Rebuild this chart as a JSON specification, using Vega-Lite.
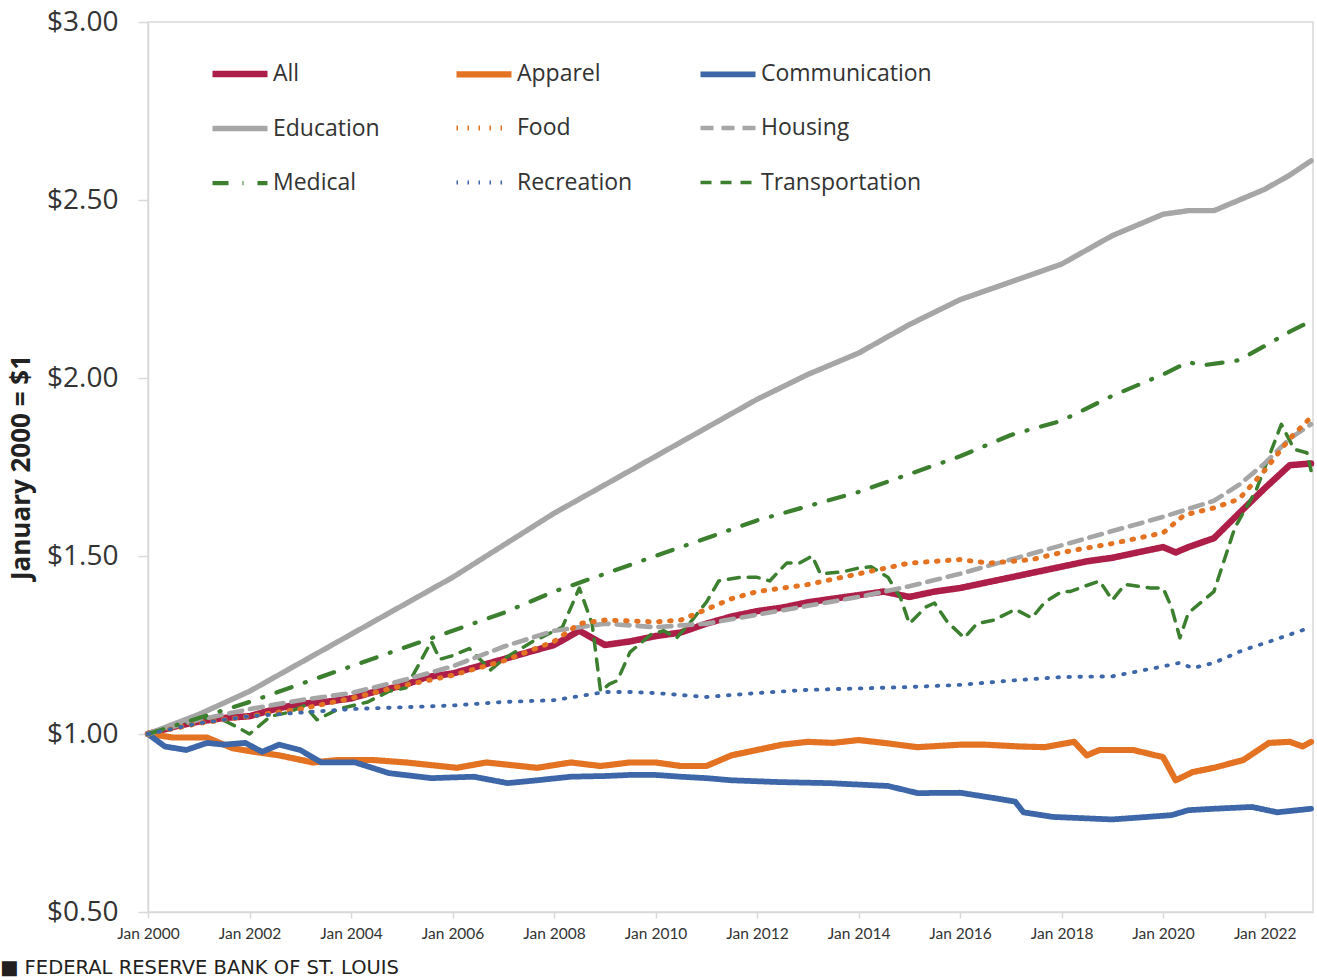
{
  "$schema": "https://vega.github.io/schema/vega-lite/v6.json",
  "width": 1165,
  "height": 890,
  "autosize": {"type": "none"},
  "padding": {"left": 148, "top": 22, "right": 4, "bottom": 68},
  "background": "white",
  "config": {"view": {"stroke": "#d9d9d9", "strokeWidth": 1.5}, "font": "Open Sans"},
  "title": {"text": "■ FEDERAL RESERVE BANK OF ST. LOUIS", "orient": "bottom", "anchor": "start", "frame": "group", "dx": -148, "offset": 17, "fontSize": 19.5, "fontWeight": "normal", "color": "#231f20", "font": "DejaVu Sans"},
  "data": {"values": [
    {"series": "All", "date": "2000-01", "value": 1.00},
    {"series": "All", "date": "2000-07", "value": 1.02},
    {"series": "All", "date": "2001-01", "value": 1.035},
    {"series": "All", "date": "2001-07", "value": 1.045},
    {"series": "All", "date": "2002-01", "value": 1.05},
    {"series": "All", "date": "2002-07", "value": 1.07},
    {"series": "All", "date": "2003-01", "value": 1.085},
    {"series": "All", "date": "2003-07", "value": 1.09},
    {"series": "All", "date": "2004-01", "value": 1.10},
    {"series": "All", "date": "2004-07", "value": 1.12},
    {"series": "All", "date": "2005-01", "value": 1.135},
    {"series": "All", "date": "2005-07", "value": 1.16},
    {"series": "All", "date": "2006-01", "value": 1.17},
    {"series": "All", "date": "2006-07", "value": 1.19},
    {"series": "All", "date": "2007-01", "value": 1.21},
    {"series": "All", "date": "2007-07", "value": 1.23},
    {"series": "All", "date": "2008-01", "value": 1.25},
    {"series": "All", "date": "2008-07", "value": 1.29},
    {"series": "All", "date": "2008-10", "value": 1.27},
    {"series": "All", "date": "2009-01", "value": 1.25},
    {"series": "All", "date": "2009-07", "value": 1.26},
    {"series": "All", "date": "2010-01", "value": 1.275},
    {"series": "All", "date": "2010-07", "value": 1.285},
    {"series": "All", "date": "2011-01", "value": 1.31},
    {"series": "All", "date": "2011-07", "value": 1.33},
    {"series": "All", "date": "2012-01", "value": 1.345},
    {"series": "All", "date": "2012-07", "value": 1.355},
    {"series": "All", "date": "2013-01", "value": 1.37},
    {"series": "All", "date": "2013-07", "value": 1.38},
    {"series": "All", "date": "2014-01", "value": 1.39},
    {"series": "All", "date": "2014-07", "value": 1.40},
    {"series": "All", "date": "2015-01", "value": 1.385},
    {"series": "All", "date": "2015-07", "value": 1.40},
    {"series": "All", "date": "2016-01", "value": 1.41},
    {"series": "All", "date": "2016-07", "value": 1.425},
    {"series": "All", "date": "2017-01", "value": 1.44},
    {"series": "All", "date": "2017-07", "value": 1.455},
    {"series": "All", "date": "2018-01", "value": 1.47},
    {"series": "All", "date": "2018-07", "value": 1.485},
    {"series": "All", "date": "2019-01", "value": 1.495},
    {"series": "All", "date": "2019-07", "value": 1.51},
    {"series": "All", "date": "2020-01", "value": 1.525},
    {"series": "All", "date": "2020-04", "value": 1.51},
    {"series": "All", "date": "2020-07", "value": 1.525},
    {"series": "All", "date": "2021-01", "value": 1.55},
    {"series": "All", "date": "2021-07", "value": 1.62},
    {"series": "All", "date": "2022-01", "value": 1.69},
    {"series": "All", "date": "2022-07", "value": 1.755},
    {"series": "All", "date": "2022-12", "value": 1.76},

    {"series": "Transportation", "date": "2000-01", "value": 1.00},
    {"series": "Transportation", "date": "2000-09", "value": 1.03},
    {"series": "Transportation", "date": "2001-05", "value": 1.05},
    {"series": "Transportation", "date": "2001-10", "value": 1.02},
    {"series": "Transportation", "date": "2002-01", "value": 1.00},
    {"series": "Transportation", "date": "2002-06", "value": 1.05},
    {"series": "Transportation", "date": "2002-10", "value": 1.06},
    {"series": "Transportation", "date": "2003-02", "value": 1.08},
    {"series": "Transportation", "date": "2003-05", "value": 1.04},
    {"series": "Transportation", "date": "2003-10", "value": 1.07},
    {"series": "Transportation", "date": "2004-05", "value": 1.09},
    {"series": "Transportation", "date": "2004-10", "value": 1.12},
    {"series": "Transportation", "date": "2005-02", "value": 1.13},
    {"series": "Transportation", "date": "2005-08", "value": 1.26},
    {"series": "Transportation", "date": "2005-10", "value": 1.21},
    {"series": "Transportation", "date": "2006-01", "value": 1.22},
    {"series": "Transportation", "date": "2006-05", "value": 1.24},
    {"series": "Transportation", "date": "2006-10", "value": 1.18},
    {"series": "Transportation", "date": "2007-01", "value": 1.21},
    {"series": "Transportation", "date": "2007-08", "value": 1.26},
    {"series": "Transportation", "date": "2008-03", "value": 1.30},
    {"series": "Transportation", "date": "2008-07", "value": 1.41},
    {"series": "Transportation", "date": "2008-10", "value": 1.31},
    {"series": "Transportation", "date": "2008-12", "value": 1.12},
    {"series": "Transportation", "date": "2009-02", "value": 1.14},
    {"series": "Transportation", "date": "2009-04", "value": 1.15},
    {"series": "Transportation", "date": "2009-07", "value": 1.23},
    {"series": "Transportation", "date": "2009-12", "value": 1.28},
    {"series": "Transportation", "date": "2010-03", "value": 1.29},
    {"series": "Transportation", "date": "2010-06", "value": 1.27},
    {"series": "Transportation", "date": "2010-09", "value": 1.31},
    {"series": "Transportation", "date": "2011-01", "value": 1.37},
    {"series": "Transportation", "date": "2011-04", "value": 1.43},
    {"series": "Transportation", "date": "2011-09", "value": 1.44},
    {"series": "Transportation", "date": "2012-01", "value": 1.44},
    {"series": "Transportation", "date": "2012-04", "value": 1.43},
    {"series": "Transportation", "date": "2012-08", "value": 1.48},
    {"series": "Transportation", "date": "2012-11", "value": 1.48},
    {"series": "Transportation", "date": "2013-02", "value": 1.50},
    {"series": "Transportation", "date": "2013-04", "value": 1.45},
    {"series": "Transportation", "date": "2013-09", "value": 1.455},
    {"series": "Transportation", "date": "2014-01", "value": 1.466},
    {"series": "Transportation", "date": "2014-04", "value": 1.47},
    {"series": "Transportation", "date": "2014-08", "value": 1.44},
    {"series": "Transportation", "date": "2014-11", "value": 1.38},
    {"series": "Transportation", "date": "2015-01", "value": 1.31},
    {"series": "Transportation", "date": "2015-05", "value": 1.357},
    {"series": "Transportation", "date": "2015-07", "value": 1.368},
    {"series": "Transportation", "date": "2015-10", "value": 1.315},
    {"series": "Transportation", "date": "2016-02", "value": 1.27},
    {"series": "Transportation", "date": "2016-05", "value": 1.31},
    {"series": "Transportation", "date": "2016-09", "value": 1.32},
    {"series": "Transportation", "date": "2017-02", "value": 1.35},
    {"series": "Transportation", "date": "2017-06", "value": 1.326},
    {"series": "Transportation", "date": "2017-09", "value": 1.37},
    {"series": "Transportation", "date": "2018-01", "value": 1.40},
    {"series": "Transportation", "date": "2018-03", "value": 1.40},
    {"series": "Transportation", "date": "2018-10", "value": 1.43},
    {"series": "Transportation", "date": "2019-01", "value": 1.376},
    {"series": "Transportation", "date": "2019-04", "value": 1.42},
    {"series": "Transportation", "date": "2019-10", "value": 1.41},
    {"series": "Transportation", "date": "2020-01", "value": 1.41},
    {"series": "Transportation", "date": "2020-03", "value": 1.357},
    {"series": "Transportation", "date": "2020-05", "value": 1.27},
    {"series": "Transportation", "date": "2020-07", "value": 1.34},
    {"series": "Transportation", "date": "2021-01", "value": 1.40},
    {"series": "Transportation", "date": "2021-06", "value": 1.58},
    {"series": "Transportation", "date": "2021-11", "value": 1.685},
    {"series": "Transportation", "date": "2022-05", "value": 1.87},
    {"series": "Transportation", "date": "2022-08", "value": 1.80},
    {"series": "Transportation", "date": "2022-11", "value": 1.79},
    {"series": "Transportation", "date": "2022-12", "value": 1.74},

    {"series": "Apparel", "date": "2000-01", "value": 1.00},
    {"series": "Apparel", "date": "2000-07", "value": 0.99},
    {"series": "Apparel", "date": "2001-03", "value": 0.99},
    {"series": "Apparel", "date": "2001-09", "value": 0.96},
    {"series": "Apparel", "date": "2002-02", "value": 0.95},
    {"series": "Apparel", "date": "2002-08", "value": 0.94},
    {"series": "Apparel", "date": "2003-04", "value": 0.92},
    {"series": "Apparel", "date": "2003-10", "value": 0.927},
    {"series": "Apparel", "date": "2004-06", "value": 0.927},
    {"series": "Apparel", "date": "2005-02", "value": 0.92},
    {"series": "Apparel", "date": "2006-02", "value": 0.905},
    {"series": "Apparel", "date": "2006-09", "value": 0.92},
    {"series": "Apparel", "date": "2007-09", "value": 0.905},
    {"series": "Apparel", "date": "2008-05", "value": 0.92},
    {"series": "Apparel", "date": "2008-12", "value": 0.91},
    {"series": "Apparel", "date": "2009-07", "value": 0.92},
    {"series": "Apparel", "date": "2010-01", "value": 0.92},
    {"series": "Apparel", "date": "2010-07", "value": 0.91},
    {"series": "Apparel", "date": "2011-01", "value": 0.91},
    {"series": "Apparel", "date": "2011-07", "value": 0.94},
    {"series": "Apparel", "date": "2012-01", "value": 0.955},
    {"series": "Apparel", "date": "2012-07", "value": 0.97},
    {"series": "Apparel", "date": "2013-01", "value": 0.978},
    {"series": "Apparel", "date": "2013-07", "value": 0.975},
    {"series": "Apparel", "date": "2014-01", "value": 0.983},
    {"series": "Apparel", "date": "2014-07", "value": 0.975},
    {"series": "Apparel", "date": "2015-03", "value": 0.963},
    {"series": "Apparel", "date": "2016-01", "value": 0.97},
    {"series": "Apparel", "date": "2016-07", "value": 0.97},
    {"series": "Apparel", "date": "2017-03", "value": 0.965},
    {"series": "Apparel", "date": "2017-09", "value": 0.963},
    {"series": "Apparel", "date": "2018-04", "value": 0.978},
    {"series": "Apparel", "date": "2018-07", "value": 0.94},
    {"series": "Apparel", "date": "2018-10", "value": 0.955},
    {"series": "Apparel", "date": "2019-06", "value": 0.955},
    {"series": "Apparel", "date": "2020-01", "value": 0.935},
    {"series": "Apparel", "date": "2020-04", "value": 0.87},
    {"series": "Apparel", "date": "2020-08", "value": 0.893},
    {"series": "Apparel", "date": "2021-01", "value": 0.905},
    {"series": "Apparel", "date": "2021-08", "value": 0.927},
    {"series": "Apparel", "date": "2022-02", "value": 0.975},
    {"series": "Apparel", "date": "2022-07", "value": 0.978},
    {"series": "Apparel", "date": "2022-10", "value": 0.965},
    {"series": "Apparel", "date": "2022-12", "value": 0.978},

    {"series": "Communication", "date": "2000-01", "value": 1.00},
    {"series": "Communication", "date": "2000-05", "value": 0.965},
    {"series": "Communication", "date": "2000-10", "value": 0.955},
    {"series": "Communication", "date": "2001-03", "value": 0.975},
    {"series": "Communication", "date": "2001-07", "value": 0.97},
    {"series": "Communication", "date": "2001-12", "value": 0.975},
    {"series": "Communication", "date": "2002-04", "value": 0.95},
    {"series": "Communication", "date": "2002-08", "value": 0.97},
    {"series": "Communication", "date": "2003-01", "value": 0.955},
    {"series": "Communication", "date": "2003-06", "value": 0.92},
    {"series": "Communication", "date": "2004-02", "value": 0.92},
    {"series": "Communication", "date": "2004-10", "value": 0.89},
    {"series": "Communication", "date": "2005-08", "value": 0.876},
    {"series": "Communication", "date": "2006-06", "value": 0.88},
    {"series": "Communication", "date": "2007-02", "value": 0.862},
    {"series": "Communication", "date": "2007-09", "value": 0.87},
    {"series": "Communication", "date": "2008-05", "value": 0.88},
    {"series": "Communication", "date": "2009-01", "value": 0.882},
    {"series": "Communication", "date": "2009-07", "value": 0.885},
    {"series": "Communication", "date": "2010-01", "value": 0.885},
    {"series": "Communication", "date": "2010-07", "value": 0.88},
    {"series": "Communication", "date": "2011-01", "value": 0.876},
    {"series": "Communication", "date": "2011-07", "value": 0.87},
    {"series": "Communication", "date": "2012-06", "value": 0.865},
    {"series": "Communication", "date": "2013-06", "value": 0.862},
    {"series": "Communication", "date": "2014-08", "value": 0.854},
    {"series": "Communication", "date": "2015-03", "value": 0.834},
    {"series": "Communication", "date": "2016-01", "value": 0.835},
    {"series": "Communication", "date": "2016-09", "value": 0.82},
    {"series": "Communication", "date": "2017-02", "value": 0.81},
    {"series": "Communication", "date": "2017-04", "value": 0.78},
    {"series": "Communication", "date": "2017-11", "value": 0.767},
    {"series": "Communication", "date": "2019-01", "value": 0.76},
    {"series": "Communication", "date": "2020-03", "value": 0.772},
    {"series": "Communication", "date": "2020-07", "value": 0.786},
    {"series": "Communication", "date": "2021-01", "value": 0.79},
    {"series": "Communication", "date": "2021-10", "value": 0.795},
    {"series": "Communication", "date": "2022-04", "value": 0.78},
    {"series": "Communication", "date": "2022-12", "value": 0.79},

    {"series": "Education", "date": "2000-01", "value": 1.00},
    {"series": "Education", "date": "2001-01", "value": 1.055},
    {"series": "Education", "date": "2002-01", "value": 1.12},
    {"series": "Education", "date": "2003-01", "value": 1.20},
    {"series": "Education", "date": "2004-01", "value": 1.28},
    {"series": "Education", "date": "2005-01", "value": 1.36},
    {"series": "Education", "date": "2006-01", "value": 1.44},
    {"series": "Education", "date": "2007-01", "value": 1.53},
    {"series": "Education", "date": "2008-01", "value": 1.62},
    {"series": "Education", "date": "2009-01", "value": 1.70},
    {"series": "Education", "date": "2010-01", "value": 1.78},
    {"series": "Education", "date": "2011-01", "value": 1.86},
    {"series": "Education", "date": "2012-01", "value": 1.94},
    {"series": "Education", "date": "2013-01", "value": 2.01},
    {"series": "Education", "date": "2014-01", "value": 2.07},
    {"series": "Education", "date": "2015-01", "value": 2.15},
    {"series": "Education", "date": "2016-01", "value": 2.22},
    {"series": "Education", "date": "2017-01", "value": 2.27},
    {"series": "Education", "date": "2018-01", "value": 2.32},
    {"series": "Education", "date": "2019-01", "value": 2.40},
    {"series": "Education", "date": "2020-01", "value": 2.46},
    {"series": "Education", "date": "2020-07", "value": 2.47},
    {"series": "Education", "date": "2021-01", "value": 2.47},
    {"series": "Education", "date": "2022-01", "value": 2.53},
    {"series": "Education", "date": "2022-07", "value": 2.57},
    {"series": "Education", "date": "2022-12", "value": 2.61},

    {"series": "Housing", "date": "2000-01", "value": 1.00},
    {"series": "Housing", "date": "2001-01", "value": 1.04},
    {"series": "Housing", "date": "2002-01", "value": 1.07},
    {"series": "Housing", "date": "2003-01", "value": 1.095},
    {"series": "Housing", "date": "2004-01", "value": 1.115},
    {"series": "Housing", "date": "2005-01", "value": 1.15},
    {"series": "Housing", "date": "2006-01", "value": 1.19},
    {"series": "Housing", "date": "2007-01", "value": 1.245},
    {"series": "Housing", "date": "2008-01", "value": 1.29},
    {"series": "Housing", "date": "2009-01", "value": 1.31},
    {"series": "Housing", "date": "2010-01", "value": 1.30},
    {"series": "Housing", "date": "2011-01", "value": 1.31},
    {"series": "Housing", "date": "2012-01", "value": 1.335},
    {"series": "Housing", "date": "2013-01", "value": 1.36},
    {"series": "Housing", "date": "2014-01", "value": 1.385},
    {"series": "Housing", "date": "2015-01", "value": 1.415},
    {"series": "Housing", "date": "2016-01", "value": 1.45},
    {"series": "Housing", "date": "2017-01", "value": 1.49},
    {"series": "Housing", "date": "2018-01", "value": 1.53},
    {"series": "Housing", "date": "2019-01", "value": 1.57},
    {"series": "Housing", "date": "2020-01", "value": 1.61},
    {"series": "Housing", "date": "2021-01", "value": 1.655},
    {"series": "Housing", "date": "2021-07", "value": 1.70},
    {"series": "Housing", "date": "2022-01", "value": 1.76},
    {"series": "Housing", "date": "2022-07", "value": 1.83},
    {"series": "Housing", "date": "2022-12", "value": 1.87},

    {"series": "Food", "date": "2000-01", "value": 1.00},
    {"series": "Food", "date": "2001-01", "value": 1.03},
    {"series": "Food", "date": "2002-01", "value": 1.05},
    {"series": "Food", "date": "2003-01", "value": 1.07},
    {"series": "Food", "date": "2004-01", "value": 1.10},
    {"series": "Food", "date": "2005-01", "value": 1.135},
    {"series": "Food", "date": "2006-01", "value": 1.165},
    {"series": "Food", "date": "2007-01", "value": 1.205},
    {"series": "Food", "date": "2008-01", "value": 1.26},
    {"series": "Food", "date": "2008-07", "value": 1.31},
    {"series": "Food", "date": "2009-01", "value": 1.32},
    {"series": "Food", "date": "2010-01", "value": 1.315},
    {"series": "Food", "date": "2010-07", "value": 1.32},
    {"series": "Food", "date": "2011-01", "value": 1.35},
    {"series": "Food", "date": "2011-07", "value": 1.38},
    {"series": "Food", "date": "2012-01", "value": 1.40},
    {"series": "Food", "date": "2013-01", "value": 1.42},
    {"series": "Food", "date": "2014-01", "value": 1.45},
    {"series": "Food", "date": "2015-01", "value": 1.48},
    {"series": "Food", "date": "2016-01", "value": 1.49},
    {"series": "Food", "date": "2016-08", "value": 1.48},
    {"series": "Food", "date": "2017-06", "value": 1.49},
    {"series": "Food", "date": "2018-01", "value": 1.51},
    {"series": "Food", "date": "2019-01", "value": 1.535},
    {"series": "Food", "date": "2020-01", "value": 1.565},
    {"series": "Food", "date": "2020-06", "value": 1.615},
    {"series": "Food", "date": "2021-01", "value": 1.635},
    {"series": "Food", "date": "2021-07", "value": 1.66},
    {"series": "Food", "date": "2022-01", "value": 1.74},
    {"series": "Food", "date": "2022-07", "value": 1.83},
    {"series": "Food", "date": "2022-12", "value": 1.89},

    {"series": "Medical", "date": "2000-01", "value": 1.00},
    {"series": "Medical", "date": "2001-01", "value": 1.045},
    {"series": "Medical", "date": "2002-01", "value": 1.09},
    {"series": "Medical", "date": "2003-01", "value": 1.14},
    {"series": "Medical", "date": "2004-01", "value": 1.19},
    {"series": "Medical", "date": "2005-01", "value": 1.24},
    {"series": "Medical", "date": "2006-01", "value": 1.29},
    {"series": "Medical", "date": "2007-01", "value": 1.34},
    {"series": "Medical", "date": "2008-01", "value": 1.40},
    {"series": "Medical", "date": "2009-01", "value": 1.45},
    {"series": "Medical", "date": "2010-01", "value": 1.50},
    {"series": "Medical", "date": "2011-01", "value": 1.55},
    {"series": "Medical", "date": "2012-01", "value": 1.60},
    {"series": "Medical", "date": "2013-01", "value": 1.64},
    {"series": "Medical", "date": "2014-01", "value": 1.68},
    {"series": "Medical", "date": "2015-01", "value": 1.73},
    {"series": "Medical", "date": "2016-01", "value": 1.78},
    {"series": "Medical", "date": "2017-01", "value": 1.84},
    {"series": "Medical", "date": "2018-01", "value": 1.88},
    {"series": "Medical", "date": "2019-01", "value": 1.95},
    {"series": "Medical", "date": "2020-01", "value": 2.01},
    {"series": "Medical", "date": "2020-07", "value": 2.045},
    {"series": "Medical", "date": "2020-10", "value": 2.035},
    {"series": "Medical", "date": "2021-07", "value": 2.05},
    {"series": "Medical", "date": "2022-01", "value": 2.09},
    {"series": "Medical", "date": "2022-07", "value": 2.13},
    {"series": "Medical", "date": "2022-12", "value": 2.16},

    {"series": "Recreation", "date": "2000-01", "value": 1.00},
    {"series": "Recreation", "date": "2001-01", "value": 1.03},
    {"series": "Recreation", "date": "2002-01", "value": 1.05},
    {"series": "Recreation", "date": "2003-01", "value": 1.06},
    {"series": "Recreation", "date": "2004-01", "value": 1.07},
    {"series": "Recreation", "date": "2005-01", "value": 1.075},
    {"series": "Recreation", "date": "2006-01", "value": 1.08},
    {"series": "Recreation", "date": "2007-01", "value": 1.09},
    {"series": "Recreation", "date": "2008-01", "value": 1.095},
    {"series": "Recreation", "date": "2009-01", "value": 1.118},
    {"series": "Recreation", "date": "2009-07", "value": 1.118},
    {"series": "Recreation", "date": "2010-01", "value": 1.115},
    {"series": "Recreation", "date": "2011-01", "value": 1.104},
    {"series": "Recreation", "date": "2012-01", "value": 1.115},
    {"series": "Recreation", "date": "2013-01", "value": 1.124},
    {"series": "Recreation", "date": "2014-01", "value": 1.128},
    {"series": "Recreation", "date": "2015-01", "value": 1.132},
    {"series": "Recreation", "date": "2016-01", "value": 1.138},
    {"series": "Recreation", "date": "2017-01", "value": 1.15},
    {"series": "Recreation", "date": "2018-01", "value": 1.16},
    {"series": "Recreation", "date": "2019-01", "value": 1.162},
    {"series": "Recreation", "date": "2020-01", "value": 1.19},
    {"series": "Recreation", "date": "2020-05", "value": 1.20},
    {"series": "Recreation", "date": "2020-08", "value": 1.185},
    {"series": "Recreation", "date": "2021-01", "value": 1.20},
    {"series": "Recreation", "date": "2021-08", "value": 1.236},
    {"series": "Recreation", "date": "2022-01", "value": 1.255},
    {"series": "Recreation", "date": "2022-12", "value": 1.30}
  ]},
  "mark": {"type": "line", "strokeCap": "round", "strokeJoin": "round"},
  "encoding": {
    "x": {
      "field": "date", "type": "temporal",
      "scale": {"type": "utc", "domain": [{"year": 2000, "month": 1, "date": 1, "utc": true}, {"year": 2022, "month": 12, "date": 15, "utc": true}]},
      "axis": {"title": null, "format": "%b %Y", "tickCount": {"interval": "year", "step": 2}, "labelFlush": false, "labelOverlap": false, "labelFontSize": 15.5, "labelColor": "#333333", "labelFont": "Lato", "domainColor": "#d9d9d9", "domainWidth": 1.5, "tickColor": "#d9d9d9", "tickWidth": 1.5, "tickSize": 6, "labelPadding": 8, "grid": false}
    },
    "y": {
      "field": "value", "type": "quantitative",
      "scale": {"domain": [0.5, 3], "nice": false, "zero": false},
      "axis": {"title": "January 2000 = $1", "values": [0.5, 1, 1.5, 2, 2.5, 3], "format": "$.2f", "labelFontSize": 28, "labelFont": "Open Sans", "labelColor": "#333333", "labelPadding": 20, "tickSize": 10, "domainColor": "#d9d9d9", "domainWidth": 1.5, "tickColor": "#d9d9d9", "tickWidth": 1.5, "grid": false, "titleFontSize": 26, "titleFont": "Open Sans", "titleFontWeight": "bold", "titleColor": "#222222", "titlePadding": 12}
    },
    "color": {
      "field": "series", "type": "nominal",
      "scale": {"domain": ["All", "Apparel", "Communication", "Education", "Food", "Housing", "Medical", "Recreation", "Transportation"],
                "range": ["#AD1F48", "#E37222", "#3D67A8", "#A6A6A6", "#E37222", "#A6A6A6", "#3B7F2F", "#3D67A8", "#3B7F2F"]},
      "legend": {"title": null, "orient": "none", "direction": "horizontal", "legendX": 61, "legendY": 21, "columns": 3, "gridAlign": "all", "columnPadding": 0, "rowPadding": 11, "symbolType": "stroke", "symbolSize": 3025, "labelFontSize": 23, "labelFont": "Open Sans", "labelColor": "#333333", "labelOffset": 2, "labelLimit": 300}
    },
    "strokeDash": {
      "field": "series", "type": "nominal",
      "scale": {"domain": ["All", "Apparel", "Communication", "Education", "Food", "Housing", "Medical", "Recreation", "Transportation"],
                "range": [[1, 0], [1, 0], [1, 0], [1, 0], [1.5, 9.5], [13, 8], [16, 14, 1, 14], [1.5, 9.5], [11, 9]]}
    },
    "strokeWidth": {
      "field": "series", "type": "nominal",
      "scale": {"domain": ["All", "Apparel", "Communication", "Education", "Food", "Housing", "Medical", "Recreation", "Transportation"],
                "range": [6.5, 3.5, 3.5, 3.5, 4, 3.5, 4, 4, 4]}
    }
  }
}
